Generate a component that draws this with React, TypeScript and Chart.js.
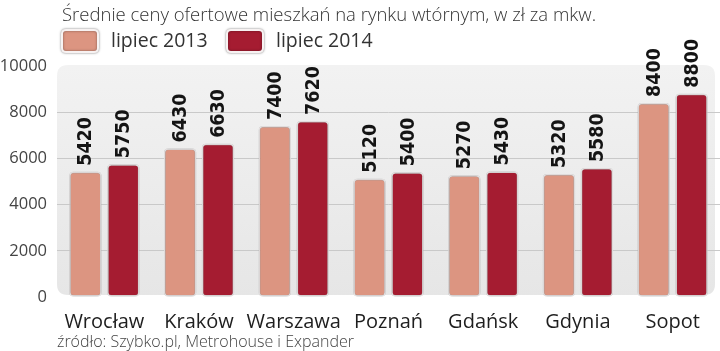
import React, { useEffect, useRef } from "react";
import { Chart, registerables } from "chart.js";

Chart.register(...registerables);

const categories = ["Wrocław", "Kraków", "Warszawa", "Poznań", "Gdańsk", "Gdynia", "Sopot"];
const values2013 = [5420, 6430, 7400, 5120, 5270, 5320, 8400];
const values2014 = [5750, 6630, 7620, 5400, 5430, 5580, 8800];
const seriesLabels = ["lipiec 2013", "lipiec 2014"];
const seriesColors = ["#dc9581", "#a51c31"];
const yTicks = [0, 2000, 4000, 6000, 8000, 10000];
const titleText = "Średnie ceny ofertowe mieszkań na rynku wtórnym, w zł za mkw.";
const sourceText = "źródło: Szybko.pl, Metrohouse i Expander";

const FONT = "'Open Sans', 'Noto Sans', sans-serif";

function roundRect(ctx: CanvasRenderingContext2D, x: number, y: number, w: number, h: number, r: number) {
  ctx.beginPath();
  ctx.moveTo(x + r, y);
  ctx.lineTo(x + w - r, y);
  ctx.quadraticCurveTo(x + w, y, x + w, y + r);
  ctx.lineTo(x + w, y + h - r);
  ctx.quadraticCurveTo(x + w, y + h, x + w - r, y + h);
  ctx.lineTo(x + r, y + h);
  ctx.quadraticCurveTo(x, y + h, x, y + h - r);
  ctx.lineTo(x, y + r);
  ctx.quadraticCurveTo(x, y, x + r, y);
  ctx.closePath();
}

const decorPlugin = {
  id: "decor",
  beforeDraw(chart: any) {
    const { ctx, chartArea } = chart;
    const { left, right, top, bottom } = chartArea;
    ctx.save();
    const g = ctx.createLinearGradient(0, top, 0, bottom);
    g.addColorStop(0, "#f2f2f2");
    g.addColorStop(1, "#e6e6e6");
    ctx.fillStyle = g;
    roundRect(ctx, left, top - 1, right - left - 5, bottom - top - 1, 11);
    ctx.fill();
    ctx.restore();
  },
  beforeDatasetsDraw(chart: any) {
    const ctx = chart.ctx;
    ctx.save();
    ctx.shadowColor = "rgba(0,0,0,0.45)";
    ctx.shadowBlur = 2.5;
    ctx.shadowOffsetX = 0;
    ctx.shadowOffsetY = 0;
  },
  afterDatasetsDraw(chart: any) {
    const ctx = chart.ctx;
    ctx.restore();
    ctx.save();
    ctx.fillStyle = "#141414";
    ctx.font = "bold 19.5px 'DejaVu Sans Condensed', 'DejaVu Sans', Roboto, sans-serif";
    ctx.textAlign = "left";
    ctx.textBaseline = "middle";
    chart.data.datasets.forEach((ds: any, di: number) => {
      const meta = chart.getDatasetMeta(di);
      meta.data.forEach((bar: any, i: number) => {
        ctx.save();
        ctx.translate(bar.x + 1, bar.y - 6);
        ctx.rotate(-Math.PI / 2);
        ctx.fillText(String(ds.data[i]), 0, 0);
        ctx.restore();
      });
    });
    ctx.restore();
  },
  afterDraw(chart: any) {
    const ctx = chart.ctx;
    ctx.save();
    ctx.fillStyle = "#333333";
    ctx.font = `300 18.5px ${FONT}`;
    ctx.textAlign = "left";
    ctx.textBaseline = "alphabetic";
    ctx.fillText(titleText, 62, 21);
    const items = [
      { x: 62, tx: 111 },
      { x: 227, tx: 276 },
    ];
    items.forEach((it, i) => {
      ctx.save();
      ctx.shadowColor = "rgba(0,0,0,0.45)";
      ctx.shadowBlur = 2.5;
      ctx.fillStyle = seriesColors[i];
      ctx.strokeStyle = "#f7f2f2";
      ctx.lineWidth = 2;
      roundRect(ctx, it.x, 30, 36, 22, 4);
      ctx.fill();
      ctx.stroke();
      ctx.restore();
      ctx.fillStyle = "#333333";
      ctx.font = `19.5px ${FONT}`;
      ctx.fillText(seriesLabels[i], it.tx, 47);
    });
    ctx.fillStyle = "#444444";
    ctx.font = `300 16px ${FONT}`;
    ctx.fillText(sourceText, 57, 347);
    ctx.restore();
  },
};

export default function App() {
  const ref = useRef<HTMLCanvasElement | null>(null);
  useEffect(() => {
    document.body.style.margin = "0";
    const canvas = ref.current!;
    const chart = new Chart(canvas, {
      type: "bar",
      data: {
        labels: categories,
        datasets: [
          {
            label: seriesLabels[0],
            data: values2013,
            backgroundColor: seriesColors[0],
            borderColor: "#f7f2f2",
            borderWidth: 1.5,
            borderRadius: 4,
            borderSkipped: false,
          },
          {
            label: seriesLabels[1],
            data: values2014,
            backgroundColor: seriesColors[1],
            borderColor: "#f7f2f2",
            borderWidth: 1.5,
            borderRadius: 4,
            borderSkipped: false,
          },
        ],
      },
      options: {
        responsive: false,
        animation: false,
        layout: { padding: { top: 66, right: 0, bottom: 0, left: 0 } },
        categoryPercentage: 0.8,
        barPercentage: 0.85,
        plugins: {
          legend: { display: false },
          tooltip: { enabled: false },
          title: { display: false },
        },
        scales: {
          x: {
            grid: { display: false },
            border: { display: false },
            ticks: {
              color: "#1e1e1e",
              font: { family: FONT, size: 20 },
              padding: 5,
              maxRotation: 0,
              autoSkip: false,
            },
            afterFit(scale: any) {
              scale.height = 54;
            },
          },
          y: {
            min: 0,
            max: 10000,
            afterBuildTicks(scale: any) {
              scale.ticks = yTicks.map((v) => ({ value: v }));
            },
            grid: {
              drawTicks: false,
              color: (c: any) =>
                c.tick && (c.tick.value === 0 || c.tick.value === 10000) ? "rgba(0,0,0,0)" : "#c9c9c9",
              lineWidth: 1,
            },
            border: { display: false },
            ticks: {
              color: "#444444",
              font: { family: FONT, size: 16.5 },
              padding: 10,
              callback: (v: any) => String(v),
            },
            afterFit(scale: any) {
              scale.width = 57;
            },
          },
        },
      },
      plugins: [decorPlugin],
    } as any);
    return () => chart.destroy();
  }, []);
  return (
    <div style={{ width: 720, height: 351 }}>
      <canvas ref={ref} width={720} height={351} style={{ display: "block" }} />
    </div>
  );
}
